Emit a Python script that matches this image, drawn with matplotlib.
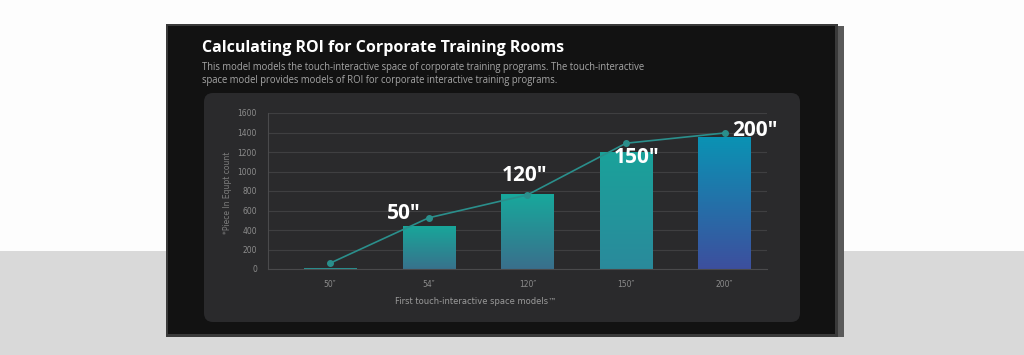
import numpy as np
import matplotlib
matplotlib.use('Agg')
import matplotlib.pyplot as plt
from matplotlib.patches import Rectangle, FancyBboxPatch
from matplotlib.colors import LinearSegmentedColormap

# data
sizes = ['50"', '54"', '120"', '150"', '200"']
tick_labels = ['50\u2033', '54\u2033', '120\u2033', '150\u2033', '200\u2033']
big_labels = ['50\u2033', '120\u2033', '150\u2033', '200\u2033']
bar_values = [12, 440, 770, 1205, 1355]
line_values = [60, 525, 760, 1290, 1395]

# gradient per bar (top colour, bottom colour)
bar_top = ['#1a9e96', '#18a69a', '#17a99c', '#1aa29a', '#0a93b4']
bar_bot = ['#2f8c8e', '#38728c', '#3a6f8c', '#2a8a9c', '#3d4f9e']

title = 'Calculating ROI for Corporate Training Rooms'
subtitle = ('This model models the touch-interactive space of corporate training programs. The touch-interactive\n'
            'space model provides models of ROI for corporate interactive training programs.')
xlabel = 'First touch-interactive space models\u2122'
ylabel = '*Piece In Equpt count'

W, H = 1024, 355
fig = plt.figure(figsize=(W / 100, H / 100), dpi=100)

# background scene in pixel coordinates
bg = fig.add_axes([0, 0, 1, 1])
bg.set_xlim(0, W)
bg.set_ylim(H, 0)
bg.axis('off')
bg.add_patch(Rectangle((0, 0), W, 251, color='#fdfdfd', lw=0))
bg.add_patch(Rectangle((0, 251), W, H - 251, color='#d9d9d9', lw=0))
# monitor frame
bg.add_patch(Rectangle((836, 26), 8, 311, color='#5a5a5a', lw=0))
bg.add_patch(Rectangle((166, 24), 672, 313, color='#3a3a3a', lw=0))
bg.add_patch(Rectangle((168, 26), 667, 308, color='#121212', lw=0))
# chart card
bg.add_patch(FancyBboxPatch((204, 93), 596, 229, boxstyle='round,pad=0,rounding_size=9',
                            fc='#2a2a2c', ec='none'))

fig.text(202 / W, 1 - 48 / H, title, color='white', fontsize=11.5, fontweight='bold',
         family='Open Sans', va='center', ha='left')
fig.text(202 / W, 1 - 74 / H, subtitle, color='#a6a6a6', fontsize=6.85,
         family='Open Sans', va='center', ha='left', linespacing=1.2)

ax = fig.add_axes([268 / W, 1 - 269 / H, 499 / W, 156 / H])
ax.set_facecolor('none')
x = np.arange(len(sizes))
ax.set_xlim(-0.63, 4.43)
ax.set_ylim(0, 1600)

bars = ax.bar(x, bar_values, width=0.53, color='none', zorder=2)
grad = np.linspace(1, 0, 256).reshape(-1, 1)
for b, top, bot in zip(bars, bar_top, bar_bot):
    cmap = LinearSegmentedColormap.from_list('g', [bot, top])
    x0, y0 = b.get_x(), b.get_y()
    w, h = b.get_width(), b.get_height()
    im = ax.imshow(grad, cmap=cmap, aspect='auto', extent=[x0, x0 + w, y0, y0 + h],
                   zorder=2, vmin=0, vmax=1)
    im.set_clip_path(b)

ax.plot(x, line_values, color='#2a8f8c', lw=1.2, marker='o', ms=4, zorder=3)

# big size labels
label_off = [(-0.25, 45), (-0.03, 200), (0.11, -150), (0.31, 30)]
for i, (lab, (dx, dy)) in enumerate(zip(big_labels, label_off)):
    k = i + 1
    ax.text(x[k] + dx, line_values[k] + dy, lab, color='white', fontsize=15,
            fontweight='bold', family='Open Sans', ha='center', va='center', zorder=4)

ax.set_yticks(np.arange(0, 1601, 200))
ax.grid(axis='y', color='#3f3f41', lw=0.8, zorder=0)
ax.set_axisbelow(True)
ax.set_xticks(x)
ax.set_xticklabels(tick_labels)
ax.tick_params(colors='#8c8c8c', labelsize=5.5, length=0, pad=8)
for s in ['top', 'right']:
    ax.spines[s].set_visible(False)
for s in ['left', 'bottom']:
    ax.spines[s].set_color('#4a4a4c')
    ax.spines[s].set_linewidth(0.8)

fig.text(227 / W, 1 - 193 / H, ylabel, rotation=90, color='#7d7d7d', fontsize=5.5,
         ha='center', va='center')
fig.text(476 / W, 1 - 302 / H, xlabel, color='#9a9a9a', fontsize=6,
         ha='center', va='center')

fig.savefig('out.png', dpi=100)
